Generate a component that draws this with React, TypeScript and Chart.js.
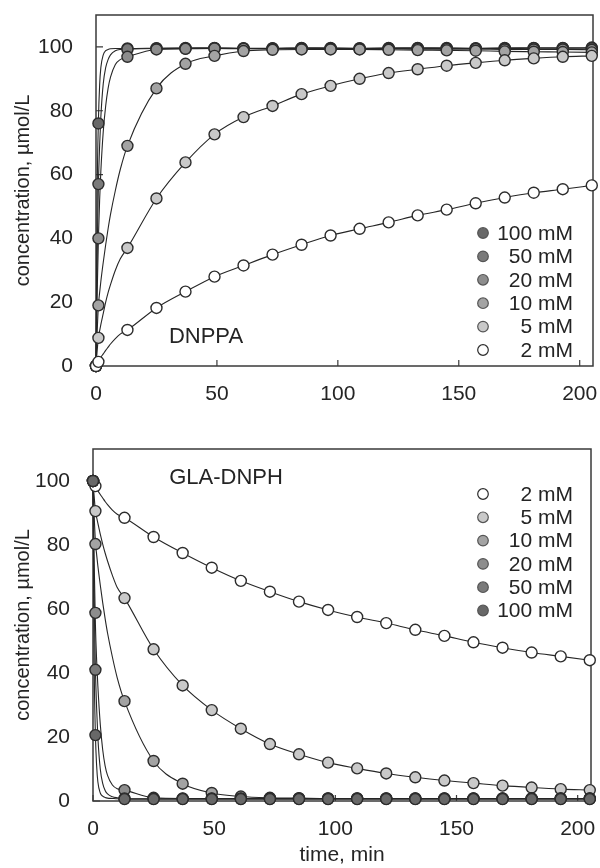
import React, { useEffect, useRef } from "react";
import { Chart, registerables } from "chart.js";

Chart.register(...registerables);

const FONT = "'Liberation Sans', Arial, Helvetica, sans-serif";
const TEXT = "#242424";
const INK = "#2c2c2c";

// sampling times (min) of the markers
const sampleTimes = [0, 1, 13, 25, 37, 49, 61, 73, 85, 97, 109, 121, 133, 145, 157, 169, 181, 193, 205];
const earlyFitTimes = [0, 0.5, 1, 1.5, 2, 3, 4, 5, 6, 8, 10];

const concTicks = [0, 20, 40, 60, 80, 100];
const timeTicks = [0, 50, 100, 150, 200];

const seriesLabels = ["100 mM", "50 mM", "20 mM", "10 mM", "5 mM", "2 mM"];
const markerFills = ["#686868", "#7a7a7a", "#8d8d8d", "#a3a3a3", "#c9c9c9", "#ffffff"];

// ---------- DNPPA (top panel) ----------
const dnppa100 = [0, 76, 99.5, 99.6, 99.7, 99.7, 99.6, 99.6, 99.7, 99.7, 99.6, 99.7, 99.7, 99.7, 99.6, 99.7, 99.7, 99.7, 99.8];
const dnppa50 = [0, 57, 99.3, 99.5, 99.5, 99.6, 99.5, 99.5, 99.6, 99.5, 99.5, 99.5, 99.6, 99.5, 99.5, 99.5, 99.6, 99.6, 99.6];
const dnppa20 = [0, 40, 96.9, 99.2, 99.4, 99.5, 99.4, 99.4, 99.4, 99.4, 99.3, 99.4, 99.3, 99.3, 99.3, 99.2, 99.2, 99.2, 99.1];
const dnppa10 = [0, 19, 69, 87, 94.7, 97.2, 98.7, 99.1, 99.2, 99.2, 99.2, 99.1, 99.0, 98.9, 98.8, 98.6, 98.5, 98.4, 98.3];
const dnppa5 = [0, 8.8, 37, 52.5, 63.8, 72.6, 78, 81.5, 85.2, 87.8, 90, 91.8, 93, 94.1, 95, 95.8, 96.4, 96.9, 97.2];
const dnppa2 = [0, 1.3, 11.3, 18.2, 23.3, 28, 31.5, 34.9, 38, 40.9, 43, 45, 47.2, 49, 51, 52.8, 54.3, 55.4, 56.6];

const dnppaFit100 = [0, 55, 77, 88, 93.5, 97.5, 98.8, 99.2, 99.4, 99.5, 99.5];
const dnppaFit50 = [0, 36, 57, 69, 78, 88.5, 93.5, 96, 97.5, 98.8, 99.2];
const dnppaFit20 = [0, 23, 40, 52, 61, 73.5, 81.5, 87, 90.5, 94.5, 96];
const dnppaFit10 = [0, 11, 19, 23, 26.5, 32.5, 38, 43, 47.5, 55, 61.5];
const dnppaFit5 = [0, 5, 8.8, 11, 13, 16.5, 20, 23, 25.5, 30, 33.5];
const dnppaFit2 = [0, 0.7, 1.3, 2, 2.7, 3.8, 4.9, 5.9, 6.9, 8.6, 10];

// ---------- GLA-DNPH (bottom panel) ----------
const gla100 = [100, 20.6, 0.6, 0.6, 0.6, 0.6, 0.6, 0.6, 0.6, 0.6, 0.6, 0.6, 0.6, 0.6, 0.6, 0.6, 0.6, 0.6, 0.6];
const gla50 = [100, 41, 0.8, 0.7, 0.7, 0.7, 0.7, 0.7, 0.7, 0.7, 0.7, 0.7, 0.7, 0.7, 0.7, 0.7, 0.7, 0.7, 0.7];
const gla20 = [100, 58.8, 3.4, 1.0, 0.8, 0.8, 0.8, 0.8, 0.8, 0.8, 0.8, 0.8, 0.8, 0.8, 0.8, 0.8, 0.8, 0.8, 0.8];
const gla10 = [100, 80.3, 31.2, 12.5, 5.4, 2.5, 1.4, 1.0, 0.9, 0.8, 0.8, 0.8, 0.8, 0.8, 0.8, 0.8, 0.8, 0.8, 0.8];
const gla5 = [100, 90.6, 63.4, 47.4, 36.1, 28.4, 22.6, 17.8, 14.6, 12, 10.2, 8.6, 7.4, 6.4, 5.6, 4.8, 4.2, 3.7, 3.4];
const gla2 = [100, 98.4, 88.5, 82.5, 77.5, 72.9, 68.8, 65.4, 62.3, 59.7, 57.5, 55.6, 53.5, 51.6, 49.6, 47.9, 46.4, 45.2, 44.0];

const glaFit100 = [100, 42, 20.6, 11, 6, 2.5, 1.5, 1.1, 0.9, 0.8, 0.7];
const glaFit50 = [100, 62, 41, 29, 20, 10, 5.5, 3.3, 2.2, 1.3, 1.0];
const glaFit20 = [100, 74, 55, 44, 36, 24, 16, 11, 8, 5, 3.8];
const glaFit10 = [100, 89, 81, 77, 73.5, 67.5, 62, 57, 52.5, 45, 38.5];
const glaFit5 = [100, 95, 90.6, 88.6, 86.8, 83.4, 80.3, 77.5, 75, 70.5, 66.7];
const glaFit2 = [100, 99.2, 98.4, 97.7, 97.0, 95.8, 94.7, 93.6, 92.6, 90.9, 89.6];

const dnppaMarks = [dnppa100, dnppa50, dnppa20, dnppa10, dnppa5, dnppa2];
const dnppaFits = [dnppaFit100, dnppaFit50, dnppaFit20, dnppaFit10, dnppaFit5, dnppaFit2];
const glaMarks = [gla100, gla50, gla20, gla10, gla5, gla2];
const glaFits = [glaFit100, glaFit50, glaFit20, glaFit10, glaFit5, glaFit2];

const dnppaLegendOrder = [0, 1, 2, 3, 4, 5];
const glaLegendOrder = [5, 4, 3, 2, 1, 0];

function buildDatasets(marks: number[][], fits: number[][], legendOrder: number[]) {
  const ds: any[] = [];
  marks.forEach((m, i) => {
    const pos = legendOrder.indexOf(i);
    ds.push({
      label: seriesLabels[i],
      data: sampleTimes.map((t, j) => ({ x: t, y: m[j] })),
      showLine: false,
      pointRadius: 5.5,
      pointHoverRadius: 5.5,
      pointBackgroundColor: markerFills[i],
      pointBorderColor: INK,
      pointBorderWidth: 1.4,
      clip: false,
      // the series listed last in the legend is drawn on top
      order: 5 - pos,
    });
  });
  fits.forEach((f, i) => {
    const pts = earlyFitTimes
      .map((t, j) => ({ x: t, y: f[j] }))
      .concat(sampleTimes.slice(2).map((t, j) => ({ x: t, y: marks[i][j + 2] })));
    ds.push({
      label: seriesLabels[i] + " fit",
      data: pts,
      showLine: true,
      pointRadius: 0,
      borderColor: "#262626",
      borderWidth: 1.1,
      cubicInterpolationMode: "monotone",
      clip: false,
      order: 20 + i,
    });
  });
  return ds;
}

const decor = {
  id: "decor",
  beforeDatasetsDraw(chart: any, _args: any, opts: any) {
    const { ctx, chartArea: a, scales } = chart;
    ctx.save();
    ctx.strokeStyle = "#3a3a3a";
    ctx.lineWidth = 1.5;
    ctx.strokeRect(a.left, a.top, a.right - a.left, a.bottom - a.top);
    ctx.lineWidth = 1.2;
    ctx.beginPath();
    for (const v of timeTicks) {
      const x = scales.x.getPixelForValue(v);
      ctx.moveTo(x, a.bottom);
      ctx.lineTo(x, a.bottom - 6);
    }
    for (const v of concTicks) {
      const y = scales.y.getPixelForValue(v);
      ctx.moveTo(a.left, y);
      ctx.lineTo(a.left + 7, y);
    }
    ctx.stroke();
    ctx.restore();
  },
  afterDatasetsDraw(chart: any, _args: any, opts: any) {
    const { ctx, chartArea: a } = chart;
    ctx.save();
    // legend
    const markX = a.right - opts.legendMarkOffset;
    const textX = a.right - opts.legendTextOffset;
    const y0 = opts.legendFromTop ? a.top + opts.legendY : a.bottom - opts.legendY - 5 * opts.legendStep;
    ctx.font = `21px ${FONT}`;
    ctx.textAlign = "right";
    ctx.textBaseline = "middle";
    opts.order.forEach((idx: number, r: number) => {
      const y = y0 + r * opts.legendStep;
      ctx.beginPath();
      ctx.arc(markX, y, 5.3, 0, Math.PI * 2);
      ctx.fillStyle = markerFills[idx];
      ctx.fill();
      ctx.lineWidth = 1.2;
      ctx.strokeStyle = idx === 5 ? INK : "#555555";
      ctx.stroke();
      ctx.fillStyle = TEXT;
      ctx.fillText(seriesLabels[idx], textX, y + 1);
    });
    // panel label
    ctx.font = `22px ${FONT}`;
    ctx.textAlign = "center";
    ctx.fillStyle = TEXT;
    const ly = opts.labelFromTop ? a.top + opts.labelY : a.bottom - opts.labelY;
    ctx.fillText(opts.label, a.left + opts.labelX, ly);
    ctx.restore();
  },
};

type PanelProps = {
  width: number;
  height: number;
  marks: number[][];
  fits: number[][];
  yAxisWidth: number;
  xAxisHeight: number;
  padTop: number;
  padRight: number;
  xTitle?: string;
  decorOpts: any;
};

function Panel(p: PanelProps) {
  const ref = useRef<HTMLCanvasElement | null>(null);
  useEffect(() => {
    if (!ref.current) return;
    const tickFont = { family: FONT, size: 21 };
    const chart = new Chart(ref.current, {
      type: "scatter",
      data: { datasets: buildDatasets(p.marks, p.fits, p.decorOpts.order) },
      options: {
        animation: false,
        responsive: false,
        events: [],
        layout: { padding: { top: p.padTop, right: p.padRight, left: 0, bottom: 0 } },
        plugins: {
          legend: { display: false },
          tooltip: { enabled: false },
          decor: p.decorOpts,
        } as any,
        scales: {
          x: {
            type: "linear",
            position: "bottom",
            min: 0,
            max: 205.5,
            grid: { display: false, drawTicks: false },
            border: { display: false },
            ticks: {
              stepSize: 50,
              includeBounds: false,
              font: tickFont,
              color: TEXT,
              padding: 16,
              maxRotation: 0,
            },
            title: p.xTitle
              ? { display: true, text: p.xTitle, font: { family: FONT, size: 21 }, color: TEXT, padding: 0 }
              : { display: false },
            afterFit: (s: any) => {
              s.height = p.xAxisHeight;
              s.paddingLeft = 0;
              s.paddingRight = 0;
            },
          },
          y: {
            type: "linear",
            min: 0,
            max: 110,
            grid: { display: false, drawTicks: false },
            border: { display: false },
            ticks: {
              stepSize: 20,
              includeBounds: false,
              font: tickFont,
              color: TEXT,
              padding: 23,
            },
            title: {
              display: true,
              text: "concentration, µmol/L",
              font: { family: FONT, size: 20 },
              color: TEXT,
              padding: { top: 11, bottom: 0 },
            },
            afterFit: (s: any) => {
              s.width = p.yAxisWidth;
              s.paddingTop = 0;
              s.paddingBottom = 0;
            },
          },
        } as any,
      },
      plugins: [decor as any],
    });
    return () => chart.destroy();
  }, []);
  return <canvas ref={ref} width={p.width} height={p.height} style={{ display: "block" }} />;
}

export default function App() {
  return (
    <div style={{ position: "absolute", left: 0, top: 0, width: 600, height: 868, background: "#ffffff" }}>
      <div style={{ position: "absolute", left: 0, top: 0 }}>
        <Panel
          width={600}
          height={410}
          marks={dnppaMarks}
          fits={dnppaFits}
          yAxisWidth={96}
          xAxisHeight={44}
          padTop={15}
          padRight={7}
          decorOpts={{
            order: dnppaLegendOrder,
            legendMarkOffset: 110,
            legendTextOffset: 20,
            legendFromTop: false,
            legendY: 16,
            legendStep: 23.4,
            label: "DNPPA",
            labelX: 110,
            labelY: 29,
            labelFromTop: false,
          }}
        />
      </div>
      <div style={{ position: "absolute", left: 0, top: 410 }}>
        <Panel
          width={600}
          height={458}
          marks={glaMarks}
          fits={glaFits}
          yAxisWidth={93}
          xAxisHeight={67}
          padTop={39}
          padRight={9}
          xTitle="time, min"
          decorOpts={{
            order: glaLegendOrder,
            legendMarkOffset: 108,
            legendTextOffset: 18,
            legendFromTop: true,
            legendY: 45,
            legendStep: 23.3,
            label: "GLA-DNPH",
            labelX: 133,
            labelY: 29,
            labelFromTop: true,
          }}
        />
      </div>
    </div>
  );
}
